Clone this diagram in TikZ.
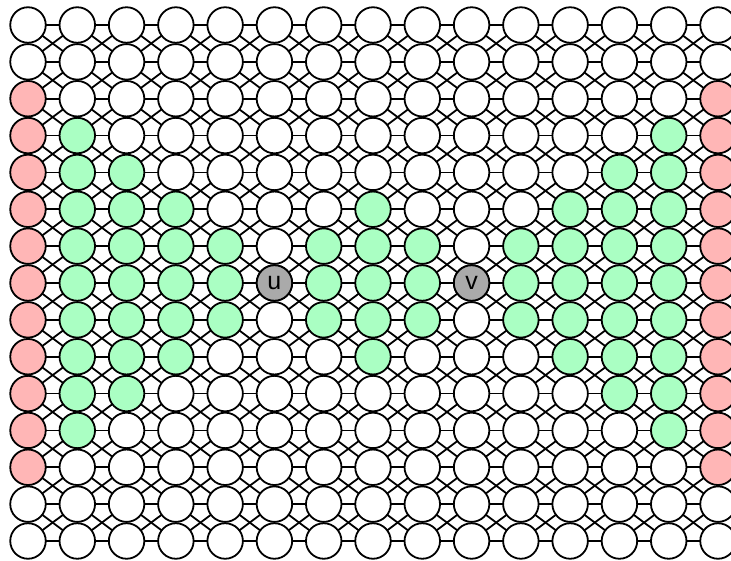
\documentclass[tikz,border=0pt]{standalone}
\usepackage{fontspec}
\setmainfont{Liberation Sans}
\definecolor{pinkfill}{RGB}{255,182,182}
\definecolor{greenfill}{RGB}{170,255,195}
\definecolor{grayfill}{RGB}{170,170,170}
\begin{document}
\begin{tikzpicture}[x=1pt,y=-1pt,
  vtx/.style={circle,draw=black,line width=1.8pt,minimum size=35.5pt,inner sep=0pt,fill=white,font=\fontsize{25}{25}\selectfont},
  pinkv/.style={vtx,fill=pinkfill},
  greenv/.style={vtx,fill=greenfill},
  grayv/.style={vtx,fill=grayfill},
  edge/.style={line width=1.8pt,draw=black}]
\useasboundingbox (0,0) rectangle (731,561);
% node positions
\foreach \i in {0,...,14}{
  \foreach \j in {0,...,14}{
    \coordinate (p-\i-\j) at ({28+49.286*\i},{25+36.857*\j});
  }
}
% edges
\foreach \i [evaluate=\i as \ni using int(\i+1)] in {0,...,13}{
  \foreach \j in {0,...,14}{
    \draw[edge] (p-\i-\j) -- (p-\ni-\j);
  }
  \foreach \j [evaluate=\j as \nj using int(\j+1)] in {0,...,13}{
    \draw[edge] (p-\i-\j) -- (p-\ni-\nj);
    \draw[edge] (p-\i-\nj) -- (p-\ni-\j);
  }
}
% nodes
\foreach \i in {0,...,14}{
  \foreach \j in {0,...,14}{
    \pgfmathtruncatemacro{\c}{((\i==0 || \i==14) && \j>=2 && \j<=12) ? 1 : 0}
    \pgfmathtruncatemacro{\h}{
      (\i==1||\i==13) ? 4 : ((\i==2||\i==12) ? 3 : ((\i==3||\i==11||\i==7) ? 2 : ((\i==4||\i==6||\i==8||\i==10) ? 1 : -1)))}
    \pgfmathtruncatemacro{\g}{(\h>=0 && abs(\j-7)<=\h) ? 1 : 0}
    \ifnum\c=1
      \node[pinkv] (n-\i-\j) at (p-\i-\j) {};
    \else\ifnum\g=1
      \node[greenv] (n-\i-\j) at (p-\i-\j) {};
    \else
      \node[vtx] (n-\i-\j) at (p-\i-\j) {};
    \fi\fi
  }
}
\node[grayv] (u) at (p-5-7) {u};
\node[grayv] (v) at (p-9-7) {v};
\end{tikzpicture}
\end{document}
